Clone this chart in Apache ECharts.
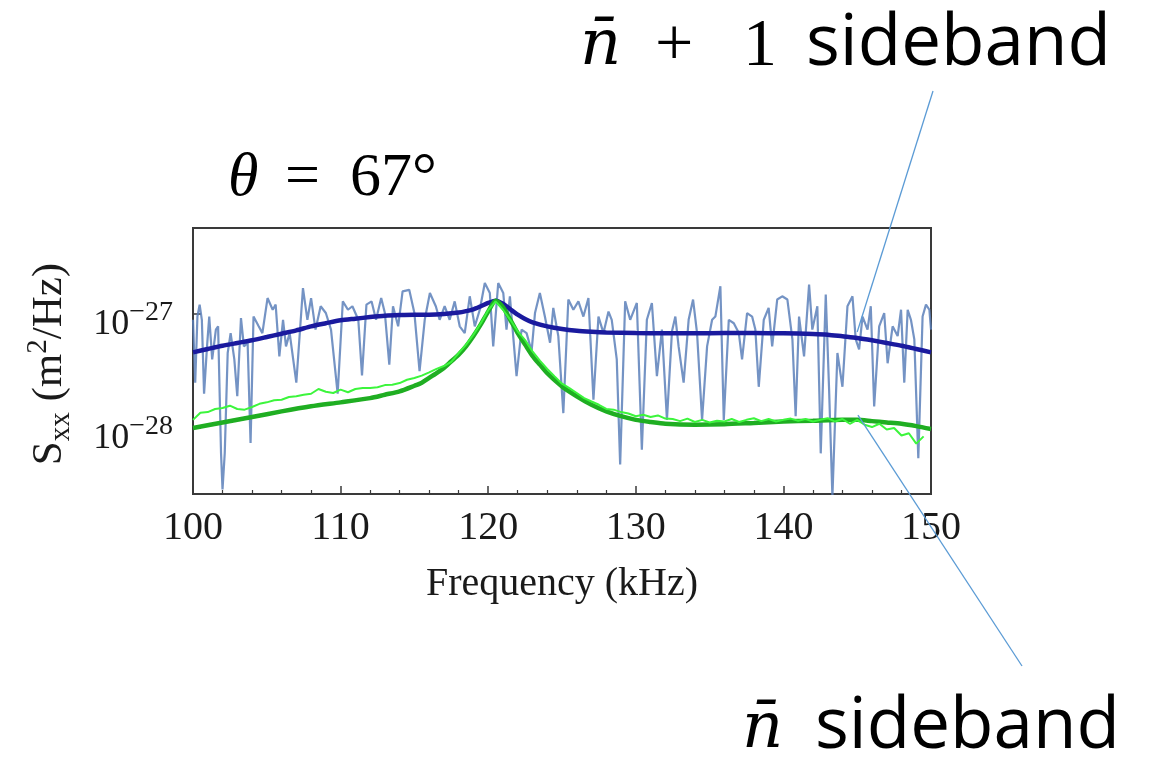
<!DOCTYPE html>
<html><head><meta charset="utf-8">
<script src="https://cdn.jsdelivr.net/npm/echarts@6/dist/echarts.min.js"></script>
<style>html,body{margin:0;padding:0;background:#fff}#c{width:1153px;height:763px}</style>
</head><body><div id="c"></div>
<script>
// ---- data (S_xx in m^2/Hz, frequency in kHz) ----
const xTicks = [100, 110, 120, 130, 140, 150];
const yTickExponents = [-28, -27];

// measured n+1 sideband spectrum (noisy)
const measBlueFreq = [
100.0,100.15,100.3,100.45,100.6,100.75,100.95,101.1,101.3,101.55,
101.7,101.9,102.0,102.15,102.35,102.55,102.8,103.0,103.25,103.45,
103.7,103.9,104.1,104.45,104.7,105.05,105.4,105.6,105.85,106.1,
106.3,106.55,107.0,107.45,107.75,108.0,108.3,108.65,109.0,109.35,
109.8,110.15,110.5,110.8,111.2,111.45,111.75,112.1,112.4,112.75,
113.0,113.3,113.55,113.9,114.2,114.65,115.0,115.35,115.7,116.05,
116.45,116.71,117.05,117.39,117.73,118.07,118.41,118.75,119.09,119.43,
119.77,120.11,120.34,120.68,121.02,121.24,121.47,121.92,122.26,122.6,
122.94,123.17,123.5,123.84,124.19,124.41,124.75,125.09,125.43,125.77,
126.11,126.45,126.79,127.13,127.47,127.81,128.15,128.37,128.71,128.94,
129.28,129.62,130.07,130.41,130.75,131.09,131.43,131.77,132.11,132.45,
132.68,132.9,133.24,133.58,133.88,134.15,134.49,134.83,135.17,135.39,
135.73,135.96,136.3,136.64,136.98,137.2,137.54,137.88,138.1,138.33,
138.67,139.0,139.24,139.58,139.92,140.27,140.61,140.83,141.06,141.4,
141.74,141.96,142.3,142.53,142.87,143.09,143.32,143.66,144.0,144.34,
144.68,144.9,145.13,145.36,145.7,145.92,146.15,146.49,146.83,147.06,
147.4,147.74,147.97,148.19,148.42,148.64,148.87,149.14,149.43,149.66,
149.89,150.0];
const measBlueVal = [
8.9e-28,2.5e-28,9.5e-28,1.21e-27,8.9e-28,2.0e-28,5.2e-28,9.5e-28,4.0e-28,7.3e-28,
7.8e-28,6.0e-29,2.9e-29,6.0e-29,4.55e-28,6.8e-28,4.0e-28,1.9e-28,9.2e-28,5.2e-28,
5.6e-28,7.4e-29,9.5e-28,7.8e-28,6.8e-28,1.38e-27,1.09e-27,1.21e-27,4.25e-28,8.9e-28,
5.2e-28,6.8e-28,2.5e-28,1.69e-27,8.9e-28,1.38e-27,7.3e-28,1.17e-27,1.02e-27,7.3e-28,
2.0e-28,1.29e-27,1.09e-27,1.17e-27,8.9e-28,2.9e-28,1.21e-27,1.29e-27,8.9e-28,1.38e-27,
1.02e-27,3.6e-28,1.17e-27,7.8e-28,1.58e-27,1.63e-27,1.02e-27,3.15e-28,8.9e-28,1.53e-27,
1.17e-27,8.9e-28,1.17e-27,8.9e-28,1.29e-27,7.8e-28,6.8e-28,1.43e-27,7.8e-28,1.09e-27,
1.87e-27,1.53e-27,5.2e-28,1.87e-27,1.53e-27,7.3e-28,1.43e-27,2.85e-28,7.3e-28,6.8e-28,
4.7e-28,1.02e-27,1.53e-27,9.5e-28,5.6e-28,1.13e-27,6.4e-28,1.35e-28,1.34e-27,1.09e-27,
1.29e-27,9.5e-28,1.38e-27,1.77e-28,9.5e-28,6.8e-28,1.05e-27,8.9e-28,4.0e-28,4.8e-29,
1.29e-27,8.9e-28,1.25e-27,6.45e-29,8.9e-28,1.25e-27,2.85e-28,7.3e-28,1.18e-28,7.05e-28,
9.5e-28,5.2e-28,2.5e-28,8.9e-28,1.34e-27,6.8e-28,1.18e-28,5.2e-28,8.9e-28,9.5e-28,
1.75e-27,1.18e-28,8.9e-28,8.3e-28,6.8e-28,4.0e-28,1.02e-27,9.5e-28,7.3e-28,2.3e-28,
8.9e-28,1.13e-27,5.2e-28,1.34e-27,1.43e-27,1.34e-27,6.0e-28,1.27e-28,9.5e-28,4.25e-28,
1.81e-27,7.3e-28,1.17e-27,6.0e-29,1.48e-27,2.3e-28,2.5e-29,4.55e-28,2.3e-28,1.17e-27,
1.43e-27,6.0e-28,4.9e-28,9.5e-28,7.3e-28,1.17e-27,1.55e-28,7.8e-28,1.02e-27,3.7e-28,
7.8e-28,6.4e-28,1.09e-27,2.5e-28,1.09e-27,8.9e-28,6.0e-28,5.45e-29,9.5e-28,1.21e-27,
1.09e-27,7.3e-28];

// fit of n+1 sideband
const fitBlueFreq = [100,101,102,103,104,105,106,107,108,109,110,111,112,113,114,115,116,117,
118,118.5,119,119.5,120,120.5,121,121.5,122,122.5,123,124,125,126,127,128,130,132,134,136,138,140,142,
143,144,145,146,147,148,149,150];
const fitBlueVal = [4.61e-28,4.93e-28,5.27e-28,5.57e-28,5.88e-28,6.28e-28,6.72e-28,7.19e-28,7.8e-28,8.3e-28,
8.8e-28,9.1e-28,9.4e-28,9.66e-28,9.8e-28,9.87e-28,9.87e-28,1.0e-27,
1.03e-27,1.06e-27,1.1e-27,1.17e-27,1.25e-27,1.31e-27,1.23e-27,1.1e-27,9.87e-28,9.04e-28,8.45e-28,
7.8e-28,7.39e-28,7.14e-28,7.0e-28,6.9e-28,6.8e-28,6.77e-28,6.77e-28,6.8e-28,6.8e-28,6.77e-28,6.68e-28,
6.59e-28,6.37e-28,6.16e-28,5.88e-28,5.57e-28,5.27e-28,4.93e-28,4.61e-28];

// measured n sideband spectrum, every 0.5 kHz from 100 kHz
const measGreenStart = 100, measGreenStep = 0.5;
const measGreenVal = [
1.18e-28,1.36e-28,1.38e-28,1.47e-28,1.50e-28,1.57e-28,1.47e-28,1.45e-28,1.53e-28,1.63e-28,
1.68e-28,1.75e-28,1.77e-28,1.87e-28,1.90e-28,1.96e-28,2.0e-28,2.2e-28,2.08e-28,2.03e-28,
2.17e-28,2.06e-28,2.2e-28,2.24e-28,2.25e-28,2.28e-28,2.38e-28,2.4e-28,2.48e-28,2.65e-28,
2.75e-28,2.88e-28,3.08e-28,3.3e-28,3.5e-28,3.8e-28,4.55e-28,5.4e-28,6.6e-28,8.3e-28,
1.08e-27,1.29e-27,1.09e-27,8.9e-28,7.05e-28,5.9e-28,4.7e-28,3.9e-28,3.3e-28,2.84e-28,
2.45e-28,2.24e-28,2.03e-28,1.83e-28,1.71e-28,1.6e-28,1.47e-28,1.45e-28,1.38e-28,1.34e-28,
1.27e-28,1.31e-28,1.25e-28,1.29e-28,1.21e-28,1.2e-28,1.15e-28,1.21e-28,1.13e-28,1.18e-28,
1.12e-28,1.16e-28,1.14e-28,1.2e-28,1.13e-28,1.18e-28,1.22e-28,1.15e-28,1.2e-28,1.14e-28,
1.18e-28,1.21e-28,1.16e-28,1.2e-28,1.14e-28,1.18e-28,1.22e-28,1.14e-28,1.2e-28,1.09e-28,
1.18e-28,1.07e-28,1.02e-28,1.09e-28,9.7e-29,1.0e-28,8.6e-29,9.0e-29,7.3e-29,8.45e-29];

// fit of n sideband
const fitGreenFreq = [100,102,104,106,108,110,112,113,114,115,115.5,116,116.5,117,117.5,118,118.5,119,119.5,
120,120.5,121,121.5,122,122.5,123,123.5,124,125,126,127,128,129,130,131,132,134,136,138,140,142,144,
145,146,147,148,149,150];
const fitGreenVal = [1.0e-28,1.12e-28,1.25e-28,1.40e-28,1.55e-28,1.68e-28,1.83e-28,1.96e-28,2.10e-28,2.35e-28,
2.5e-28,2.75e-28,3.03e-28,3.36e-28,3.85e-28,4.4e-28,5.2e-28,6.4e-28,8.1e-28,1.05e-27,1.31e-27,1.15e-27,
8.9e-28,6.8e-28,5.4e-28,4.3e-28,3.6e-28,3.03e-28,2.32e-28,1.9e-28,1.6e-28,1.4e-28,1.27e-28,1.18e-28,
1.13e-28,1.09e-28,1.07e-28,1.08e-28,1.11e-28,1.14e-28,1.16e-28,1.18e-28,
1.18e-28,1.15e-28,1.12e-28,1.09e-28,1.04e-28,9.8e-29];

// callout anchor points (freq, value) for the two annotations
const calloutFreq = [145.0, 145.05];
const calloutVal = [6.95e-28, 1.3e-28];

const yRange = [2.64e-29, 5.68e-27];
const xRange = [100, 150];

// ---- chart ----
const zip = (a, b) => a.map((x, i) => [x, b[i]]);
const measGreen = measGreenVal.map((v, i) => [measGreenStart + i * measGreenStep, v]);
const SERIF = '"Liberation Serif","DejaVu Serif",serif';
const MATHI = '"DejaVu Serif","Liberation Serif",serif';
const SANS = '"Open Sans","Noto Sans",sans-serif';

const chart = echarts.init(document.getElementById('c'), null, {renderer: 'canvas'});
chart.setOption({
  animation: false,
  backgroundColor: '#fff',
  grid: {left: 193, top: 228, width: 738, height: 266, show: true, borderColor: '#3a3a3a', borderWidth: 2,
         backgroundColor: 'transparent', containLabel: false, outerBoundsMode: 'none'},
  xAxis: {
    type: 'value', min: xRange[0], max: xRange[1], interval: 10,
    axisLine: {show: true, lineStyle: {color: '#3a3a3a', width: 2}},
    axisTick: {show: true, inside: true, length: 8, lineStyle: {color: '#3a3a3a', width: 1.5}},
    minorTick: {show: true, splitNumber: 5, length: 4, lineStyle: {color: '#3a3a3a', width: 1.2}},
    splitLine: {show: false},
    axisLabel: {fontFamily: SERIF, fontSize: 40, color: '#1a1a1a', margin: 14,
      formatter: v => (xTicks.indexOf(v) >= 0 ? String(v) : '')},
    name: 'Frequency (kHz)', nameLocation: 'middle', nameGap: 70,
    nameTextStyle: {fontFamily: SERIF, fontSize: 40, color: '#1a1a1a'}
  },
  yAxis: {
    type: 'log', logBase: 10, min: yRange[0], max: yRange[1],
    axisLine: {show: true, lineStyle: {color: '#3a3a3a', width: 2}},
    axisTick: {show: true, inside: true, length: 8, lineStyle: {color: '#3a3a3a', width: 1.5}},
    splitLine: {show: false},
    axisLabel: {
      margin: 20,
      padding: [14, 0, 0, 0],
      formatter: v => {
        if (!(v > 0)) return '';
        const l = Math.log10(v), e = Math.round(l);
        if (!isFinite(l) || Math.abs(l - e) > 1e-6 || yTickExponents.indexOf(e) < 0) return '';
        return '{b|10}{s|\u2212' + (-e) + '}';
      },
      rich: {
        b: {fontFamily: SERIF, fontSize: 36, color: '#1a1a1a', lineHeight: 44, verticalAlign: 'bottom'},
        s: {fontFamily: SERIF, fontSize: 28, color: '#1a1a1a', lineHeight: 24, verticalAlign: 'top'}
      }
    }
  },
  series: [
    {type: 'line', name: 'meas n+1', data: zip(measBlueFreq, measBlueVal), showSymbol: false,
     lineStyle: {color: 'rgba(92,128,186,0.85)', width: 2.2}, z: 1, clip: true},
    {type: 'line', name: 'fit n+1', data: zip(fitBlueFreq, fitBlueVal), showSymbol: false, smooth: 0.25,
     lineStyle: {color: '#1a1a9e', width: 4.5}, z: 2},
    {type: 'line', name: 'fit n', data: zip(fitGreenFreq, fitGreenVal), showSymbol: false, smooth: 0.25,
     lineStyle: {color: '#1fae22', width: 4.5}, z: 3},
    {type: 'line', name: 'meas n', data: measGreen, showSymbol: false,
     lineStyle: {color: '#3cf53c', width: 2}, z: 4}
  ]
});

const pUp = chart.convertToPixel({gridIndex: 0}, [calloutFreq[0], calloutVal[0]]);
const pLo = chart.convertToPixel({gridIndex: 0}, [calloutFreq[1], calloutVal[1]]);
const txt = (x, y, text, font) => ({
  type: 'text', x: x, y: y, z: 100,
  style: {text: text, font: font, fill: '#000', textAlign: 'left', textVerticalAlign: 'middle', verticalAlign: 'middle'}
});
const gfx = [
  // y-axis title (rotated)
  {type: 'text', x: 50, y: 364, rotation: Math.PI / 2, z: 100,
   style: {text: '{a|S}{sub|xx}{a| (m}{sup|2}{a|/Hz)}', textAlign: 'center', verticalAlign: 'middle', textVerticalAlign: 'middle',
     fill: '#1a1a1a',
     rich: {
       a: {fontFamily: SERIF, fontSize: 43, fill: '#1a1a1a', lineHeight: 52, verticalAlign: 'middle'},
       sub: {fontFamily: SERIF, fontSize: 29, fill: '#1a1a1a', lineHeight: 32, verticalAlign: 'bottom'},
       sup: {fontFamily: SERIF, fontSize: 29, fill: '#1a1a1a', lineHeight: 32, verticalAlign: 'top'}
     }}},
  txt(228, 179, '\u03b8', 'italic 62px ' + SERIF),
  txt(285, 179, '=', '62px ' + SERIF),
  txt(350, 179, '67\u00b0', '62px ' + SERIF),
  txt(580, 47, 'n\u0304', 'italic 64px ' + MATHI),
  txt(655, 47, '+', '68px ' + SERIF),
  txt(743, 47, '1', '68px ' + SERIF),
  txt(806, 45, 'sideband', '71px ' + SANS),
  txt(742, 730, 'n\u0304', 'italic 64px ' + MATHI),
  txt(815, 728, 'sideband', '71px ' + SANS)
];
if (isFinite(pUp[0]) && isFinite(pLo[0])) {
  gfx.push({type: 'line', z: 90, shape: {x1: 933, y1: 91, x2: pUp[0], y2: pUp[1]}, style: {stroke: '#5b9bd5', lineWidth: 1.3}});
  gfx.push({type: 'line', z: 90, shape: {x1: pLo[0], y1: pLo[1], x2: 1022, y2: 666}, style: {stroke: '#5b9bd5', lineWidth: 1.3}});
}
chart.setOption({graphic: gfx});
</script>
</body></html>
